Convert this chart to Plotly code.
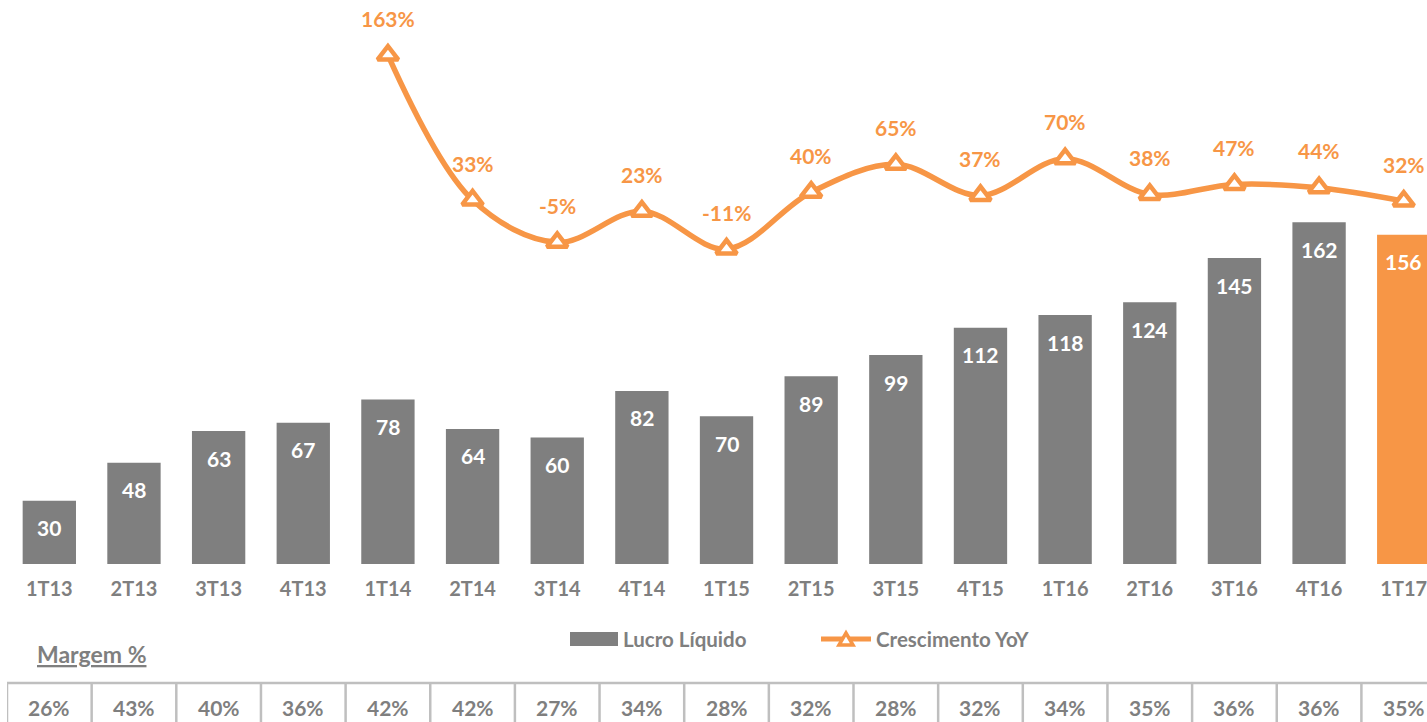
import plotly.graph_objects as go

categories = ["1T13","2T13","3T13","4T13","1T14","2T14","3T14","4T14","1T15",
              "2T15","3T15","4T15","1T16","2T16","3T16","4T16","1T17"]
lucro = [30,48,63,67,78,64,60,82,70,89,99,112,118,124,145,162,156]
crescimento = [None,None,None,None,163,33,-5,23,-11,40,65,37,70,38,47,44,32]
margem = ["26%","43%","40%","36%","42%","42%","27%","34%","28%","32%","28%","32%",
          "34%","35%","36%","36%","35%"]

GRAY = "#7F7F7F"
ORANGE = "#F79646"
BORDER = "#BFBFBF"
FONT = "Lato"

W, H = 1427, 722
ML = 7
PW = W - ML

def px(x):
    return (x - ML) / PW

def py(y):
    return (H - y) / H

bar_colors = [GRAY] * (len(categories) - 1) + [ORANGE]

fig = go.Figure()
fig.add_trace(go.Bar(
    x=categories, y=lucro, marker=dict(color=bar_colors, line=dict(width=0)),
    width=0.63, name="Lucro Líquido", yaxis="y", hoverinfo="x+y"))
fig.add_trace(go.Scatter(
    x=categories, y=crescimento, mode="lines+markers", name="Crescimento YoY",
    yaxis="y2", line=dict(color=ORANGE, width=5.5, shape="spline", smoothing=1.0),
    marker=dict(symbol="triangle-up", size=18, color="white",
                line=dict(color=ORANGE, width=4.5)),
    connectgaps=False))

annotations = []
for c, v in zip(categories, lucro):
    annotations.append(dict(x=c, y=v, xref="x", yref="y", text=f"<b>{v}</b>",
                            showarrow=False, yshift=-27, yanchor="middle",
                            font=dict(family=FONT, size=21, color="white")))
for c, v in zip(categories, crescimento):
    if v is None:
        continue
    annotations.append(dict(x=c, y=v, xref="x", yref="y2", text=f"<b>{v}%</b>",
                            showarrow=False, yshift=37, yanchor="middle",
                            font=dict(family=FONT, size=21, color=ORANGE)))
for c, m in zip(categories, margem):
    annotations.append(dict(x=c, y=py(707), xref="x", yref="paper", text=f"<b>{m}</b>",
                            showarrow=False, yanchor="middle",
                            font=dict(family=FONT, size=21, color=GRAY)))
annotations.append(dict(x=px(35), y=py(654), xref="paper", yref="paper",
                        text="<b><u>Margem %</u></b>", showarrow=False,
                        xanchor="left", yanchor="middle",
                        font=dict(family=FONT, size=23, color=GRAY)))
annotations.append(dict(x=px(621), y=py(639), xref="paper", yref="paper",
                        text="<b>Lucro Líquido</b>", showarrow=False,
                        xanchor="left", yanchor="middle",
                        font=dict(family=FONT, size=20.5, color=GRAY)))
annotations.append(dict(x=px(874), y=py(639), xref="paper", yref="paper",
                        text="<b>Crescimento YoY</b>", showarrow=False,
                        xanchor="left", yanchor="middle",
                        font=dict(family=FONT, size=20.5, color=GRAY)))

shapes = []
# legend symbols
shapes.append(dict(type="rect", xref="paper", yref="paper",
                   x0=px(570), x1=px(618), y0=py(646), y1=py(632),
                   fillcolor=GRAY, line=dict(width=0)))
shapes.append(dict(type="line", xref="paper", yref="paper",
                   x0=px(821), x1=px(871), y0=py(639), y1=py(639),
                   line=dict(color=ORANGE, width=5)))
tri = f"M {px(839)},{py(645)} L {px(853)},{py(645)} L {px(846)},{py(633)} Z"
shapes.append(dict(type="path", xref="paper", yref="paper", path=tri,
                   fillcolor="white", line=dict(color=ORANGE, width=3.5)))
# table
n = len(categories)
shapes.append(dict(type="line", xref="x", yref="paper", x0=-0.5, x1=n - 0.5,
                   y0=py(683), y1=py(683), line=dict(color=BORDER, width=2.5)))
for i in range(n + 1):
    shapes.append(dict(type="line", xref="x", yref="paper", x0=i - 0.5, x1=i - 0.5,
                       y0=py(683), y1=-0.05, line=dict(color=BORDER, width=2.5)))

ymax = 564 / 2.11
fig.update_layout(
    width=W, height=H,
    margin=dict(l=ML, r=0, t=0, b=0),
    paper_bgcolor="white", plot_bgcolor="white",
    showlegend=False,
    bargap=0.37,
    xaxis=dict(type="category", categoryorder="array", categoryarray=categories,
               range=[-0.5, -0.5 + PW / 84.65], showgrid=False, zeroline=False,
               showline=False, ticks="", ticklabelstandoff=11,
               tickfont=dict(family=FONT, size=20, color=GRAY),
               tickprefix="<b>", ticksuffix="</b>", fixedrange=True),
    yaxis=dict(domain=[158 / H, 1], range=[0, ymax], visible=False, fixedrange=True),
    yaxis2=dict(overlaying="y", range=[-293.5, 212.4], visible=False, fixedrange=True),
    annotations=annotations,
    shapes=shapes,
)

fig.write_html("out.html", config={"displayModeBar": False},
               post_script="document.body.style.margin='0';document.body.style.overflow='hidden';")
